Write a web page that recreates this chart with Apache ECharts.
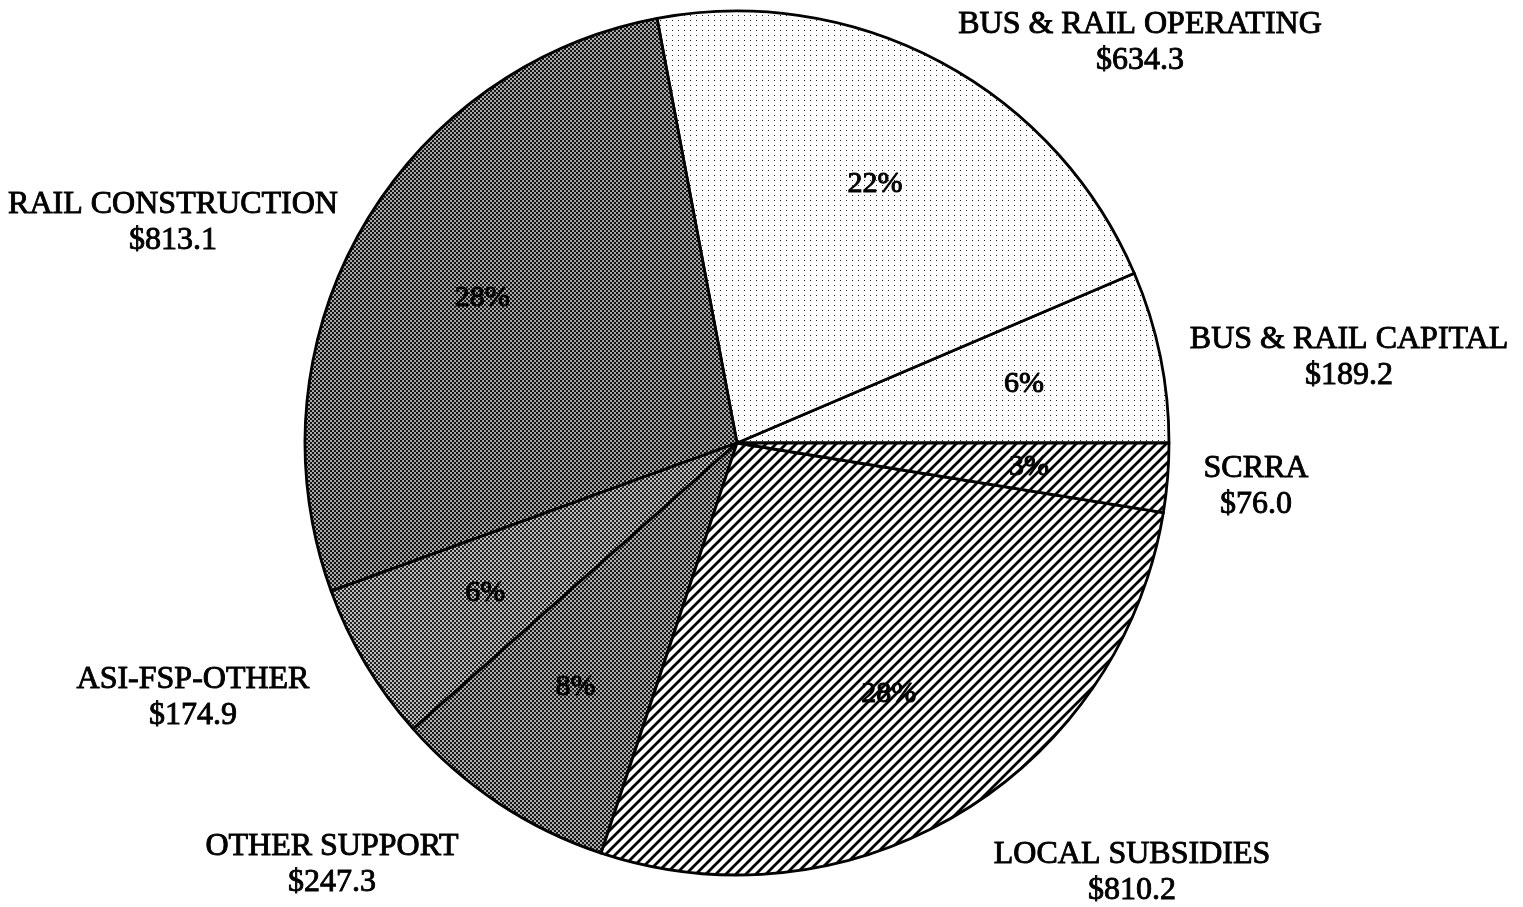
<!DOCTYPE html>
<html>
<head>
<meta charset="utf-8">
<script src="https://cdn.jsdelivr.net/npm/echarts@6/dist/echarts.min.js"></script>
<style>
html,body{margin:0;padding:0;background:#fff;}
#chart{width:1523px;height:907px;}
</style>
</head>
<body>
<div id="chart"></div>
<script>
// Data (counter-clockwise from 3 o'clock)
const categories = ['BUS & RAIL CAPITAL','BUS & RAIL OPERATING','RAIL CONSTRUCTION','ASI-FSP-OTHER','OTHER SUPPORT','LOCAL SUBSIDIES','SCRRA'];
const values = [189.2, 634.3, 813.1, 174.9, 247.3, 810.2, 76.0];

// Label placement (outside name/value labels), pixel centres
const labelPos = [[1349,358],[1140,43],[173,223],[193,698],[332,865],[1132,873],[1256,487]];

function dots(bg, fg, w, h) {
  const c = document.createElement('canvas'); c.width = w; c.height = h;
  const g = c.getContext('2d');
  g.fillStyle = bg; g.fillRect(0,0,w,h);
  g.fillStyle = fg; g.fillRect(0,0,1,1);
  return c;
}
function checker(a, b) {
  const c = document.createElement('canvas'); c.width = 4; c.height = 4;
  const g = c.getContext('2d');
  g.fillStyle = a; g.fillRect(0,0,4,4);
  g.fillStyle = b; g.fillRect(0,0,2,2); g.fillRect(2,2,2,2);
  return c;
}
function hatch() {
  const s = 10;
  const c = document.createElement('canvas'); c.width = s; c.height = s;
  const g = c.getContext('2d');
  g.fillStyle = '#fff'; g.fillRect(0,0,s,s);
  g.strokeStyle = '#000'; g.lineWidth = 2.8;
  g.beginPath();
  g.moveTo(-2, s+2); g.lineTo(s+2, -2);
  g.moveTo(-2, 2); g.lineTo(2, -2);
  g.moveTo(s-2, s+2); g.lineTo(s+2, s-2);
  g.stroke();
  return c;
}
const fills = [
  {image: dots('#ffffff', '#222', 6, 5), repeat: 'repeat'},
  {image: dots('#ffffff', '#222', 6, 5), repeat: 'repeat'},
  {image: checker('#a8a8a8', '#151515'), repeat: 'repeat'},
  {image: checker('#bdbdbd', '#222222'), repeat: 'repeat'},
  {image: checker('#acacac', '#181818'), repeat: 'repeat'},
  {image: hatch(), repeat: 'repeat'},
  {image: hatch(), repeat: 'repeat'}
];

const pieData = categories.map((n, i) => ({name: n, value: values[i], itemStyle: {color: fills[i]}}));
const total = values.reduce((a, b) => a + b, 0);
const font = '"Liberation Serif", "Times New Roman", serif';

const chart = echarts.init(document.getElementById('chart'));
chart.setOption({
  backgroundColor: '#ffffff',
  animation: false,
  series: [
    {
      type: 'pie',
      center: [737, 443],
      radius: [0, 432],
      startAngle: 0,
      clockwise: false,
      silent: true,
      data: pieData,
      itemStyle: {borderColor: '#000', borderWidth: 2.8},
      labelLine: {show: false},
      label: {
        show: true,
        position: 'outside',
        formatter: p => p.name + '\n$' + p.value.toFixed(1),
        fontFamily: font,
        fontSize: 32,
        lineHeight: 36,
        width: 520,
        overflow: 'none',
        color: '#000',
        textBorderColor: '#000',
        textBorderWidth: 0.9,
        align: 'center'
      },
      labelLayout: p => ({
        x: labelPos[p.dataIndex][0],
        y: labelPos[p.dataIndex][1],
        align: 'center',
        verticalAlign: 'middle'
      })
    },
    {
      type: 'pie',
      center: [737, 443],
      radius: [250, 330],
      startAngle: 0,
      clockwise: false,
      silent: true,
      data: categories.map((n, i) => ({name: n, value: values[i]})),
      itemStyle: {color: 'rgba(0,0,0,0)', borderWidth: 0},
      labelLine: {show: false},
      label: {
        show: true,
        position: 'inside',
        formatter: p => Math.round(p.value / total * 100) + '%',
        fontFamily: font,
        fontSize: 30,
        color: '#000',
        textBorderColor: '#000',
        textBorderWidth: 1
      }
    }
  ]
});
</script>
</body>
</html>
